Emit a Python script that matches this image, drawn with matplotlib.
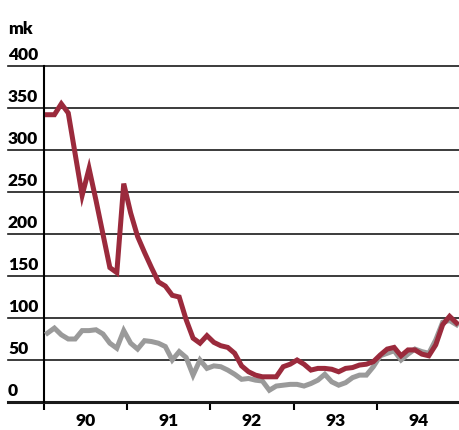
import matplotlib.pyplot as plt
import numpy as np

# monthly values, Jan 1990 - Dec 1994
red = [342, 342, 355, 344, 295, 246, 278, 240, 200, 160, 154, 260,
       225, 197, 178, 160, 143, 138, 127, 125, 98, 76, 70, 79,
       71, 67, 65, 58, 43, 36, 32, 30, 30, 30, 42, 45,
       50, 45, 38, 40, 40, 39, 36, 40, 41, 44, 45, 48,
       56, 63, 65, 55, 62, 62, 57, 55, 68, 92, 102, 94]
gray = [82, 88, 80, 75, 75, 85, 85, 86, 81, 70, 64, 85,
        70, 63, 73, 72, 70, 66, 50, 60, 53, 32, 50, 40,
        43, 42, 38, 33, 27, 28, 26, 25, 14, 19, 20, 21,
        21, 19, 22, 26, 33, 24, 20, 23, 29, 32, 32, 42,
        55, 58, 61, 50, 57, 63, 60, 58, 74, 95, 97, 92]
years = ['90', '91', '92', '93', '94']
yticks = [0, 50, 100, 150, 200, 250, 300, 350, 400]

plt.rcParams['font.family'] = ['Lato', 'DejaVu Sans']
fw = 'heavy'

fig = plt.figure(figsize=(4.6, 4.3), dpi=100)
ax = fig.add_axes([44/460, 1-402/430, 416/460, 336/430])

x = np.arange(len(red)) + 0.5
ax.plot(x, gray, color='#9a9a9a', lw=3.6, solid_joinstyle='miter', zorder=3)
ax.plot(x, red, color='#9b2a3c', lw=3.6, solid_joinstyle='miter', zorder=4)

ax.set_xlim(0, 60)
ax.set_ylim(0, 400)

# gridlines reaching out under the labels
left = (8 - 44) / 416
for v in yticks:
    ax.axhline(v, xmin=left, xmax=1, color='#1a1a1a',
               lw=2.2 if v == 0 else 1.2, clip_on=False, zorder=2)
    ax.text(left, v + 4, str(v), transform=ax.get_yaxis_transform(),
            ha='left', va='bottom', fontsize=12.5, fontweight=fw)
ax.text(left, 1.085, 'mk', transform=ax.transAxes, ha='left', va='bottom',
        fontsize=12.5, fontweight=fw)

for s in ['top', 'right', 'bottom']:
    ax.spines[s].set_visible(False)
ax.spines['left'].set_linewidth(1.5)
ax.set_yticks([])

ax.set_xticks([0, 12, 24, 36, 48])
ax.set_xticklabels([])
ax.tick_params(axis='x', which='major', length=6, width=1.5, direction='out')
ax.set_xticks([6, 18, 30, 42, 54], minor=True)
ax.set_xticklabels(years, minor=True, fontsize=12.5, fontweight=fw)
ax.tick_params(axis='x', which='minor', length=0, pad=8)

plt.savefig('out.png', dpi=100)
plt.close()
